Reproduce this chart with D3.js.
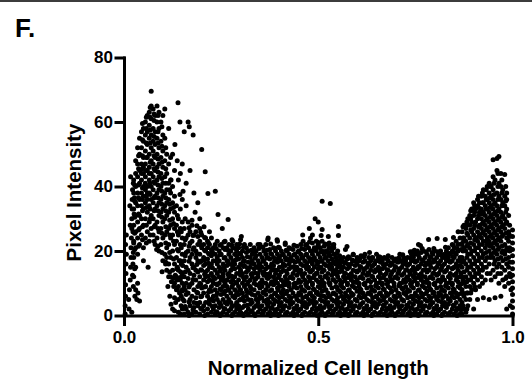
<!DOCTYPE html>
<html>
<head>
<meta charset="utf-8">
<script src="https://cdn.jsdelivr.net/npm/d3@7"></script>
<style>
  body { margin: 0; background: #fff; }
  svg { display: block; }
  text { font-family: "Liberation Sans", Arial, sans-serif; font-weight: bold; fill: #000; }
</style>
</head>
<body>
<svg id="chart" width="532" height="381"></svg>
<script>
// tick values
const xTicks = [0, 0.5, 1];
const yTicks = [0, 20, 40, 60, 80];

// points hugging the left end (x ~ 0)
const leftEdge = [
  [0.003, 0.5], [0.003, 3], [0.004, 6], [0.004, 9.5], [0.005, 13], [0.005, 16], [0.006, 19], [0.004, 22], [0.006, 25],
  [0.012, 5], [0.014, 8], [0.016, 11], [0.017, 15], [0.018, 18], [0.018, 21], [0.019, 24], [0.02, 27], [0.02, 30],
  [0.021, 33], [0.021, 36], [0.022, 39], [0.024, 41], [0.016, 28], [0.015, 34], [0.017, 43],
  [0.024, 9], [0.028, 6], [0.03, 8], [0.033, 5], [0.036, 7], [0.04, 4.5], [0.035, 10],
  [0.022, 12.5], [0.023, 16], [0.024, 19.5], [0.025, 22.5], [0.023, 26], [0.026, 31.5], [0.027, 36.5], [0.013, 2], [0.02, 1]
];

// left peak, one row per x position: [x, y, y, ...]
const leftPeakCols = [
  [0.025, 12, 18, 23, 28, 33, 38, 42],
  [0.03, 15, 21, 26, 31, 35, 40, 44, 48],
  [0.035, 19, 24, 29, 34, 38, 43, 47, 52],
  [0.04, 22, 27, 31, 36, 41, 45, 50, 55],
  [0.045, 25, 30, 34, 38, 42, 44, 47, 52, 57],
  [0.05, 21, 28, 33, 37, 40, 44, 46, 49, 54, 58],
  [0.055, 24, 30, 35, 39, 41, 43, 47, 51, 56, 60],
  [0.06, 26, 32, 36, 38, 40, 45, 49, 53, 57, 62],
  [0.065, 23, 29, 34, 38, 42, 44, 46, 50, 55, 59, 63],
  [0.07, 27, 31, 36, 40, 44, 48, 52, 56, 61, 65, 69.5],
  [0.075, 25, 30, 35, 39, 43, 47, 51, 54, 58, 64],
  [0.08, 22, 28, 33, 37, 41, 45, 49, 53, 57, 62],
  [0.085, 24, 29, 34, 38, 42, 46, 50, 55, 60, 65],
  [0.09, 20, 26, 31, 35, 39, 43, 47, 52, 58, 63],
  [0.095, 22, 27, 32, 36, 40, 44, 49, 54, 60],
  [0.1, 17, 24, 29, 33, 37, 41, 46, 51, 56, 62],
  [0.105, 19, 25, 30, 34, 38, 43, 48, 55, 64],
  [0.11, 14, 21, 26, 31, 35, 39, 44, 50],
  [0.115, 16, 22, 27, 32, 36, 41, 47, 58],
  [0.12, 12, 18, 24, 28, 33, 38, 42, 49],
  [0.125, 14, 20, 25, 30, 35, 40],
  [0.13, 10, 16, 22, 27, 32, 37, 45],
  [0.135, 12, 18, 23, 28, 34],
  [0.14, 9, 14, 20, 25, 30, 42],
  [0.145, 11, 17, 22, 27, 33],
  [0.15, 8, 13, 19, 24, 29, 36]
];

// second pass over the left peak, between the rows above
const leftPeakColsB = [
  [0.0275, 14.5, 20.5, 25.5, 30.5, 35.5, 40.5],
  [0.0375, 21.5, 26.5, 31.5, 36.5, 40.5, 45.5, 49.5],
  [0.0475, 23.5, 27.5, 32.5, 36, 39.5, 45.5, 49.5, 54.5, 59.5],
  [0.0575, 22.5, 28, 33.5, 37, 45, 49, 53.5, 58, 61.5],
  [0.0675, 25, 30, 33, 37.5, 41, 47.5, 53.5, 57.5, 61.5, 64.5],
  [0.0775, 23, 27.5, 32.5, 36.5, 41.5, 45.5, 49.5, 55.5, 60.5, 62.5],
  [0.0875, 21.5, 27, 32.5, 36.5, 40.5, 44.5, 48.5, 53.5, 57, 62],
  [0.0975, 19.5, 25.5, 30.5, 34.5, 38.5, 42.5, 47.5, 52.5, 58.5],
  [0.1075, 16.5, 22.5, 27.5, 32.5, 36.5, 41, 45.5, 52],
  [0.1175, 13.5, 19.5, 25, 29.5, 34.5, 39],
  [0.1275, 11.5, 17.5, 23, 28.5, 33.5],
  [0.1375, 8, 15, 20.5, 26, 31],
  [0.1475, 6, 12, 16, 21, 26]
];

// sparse points between the left peak and the band
const gapPoints = [
  [0.118, 6], [0.125, 2], [0.128, 9], [0.133, 4], [0.137, 11], [0.14, 1], [0.143, 7], [0.147, 3], [0.15, 10],
  [0.152, 5], [0.098, 13.6], [0.113, 9], [0.107, 16], [0.084, 20.5], [0.05, 17], [0.062, 15],
  [0.13, 1.5], [0.13, 5.5], [0.132, 12.5], [0.135, 8], [0.136, 14.5], [0.14, 5], [0.141, 11.5], [0.142, 17],
  [0.145, 0.5], [0.146, 13.5], [0.15, 2], [0.149, 7.5], [0.151, 15.5], [0.121, 3.5], [0.122, 10.5],
  [0.115, 12], [0.11, 18]
];

// scattered points above the band, right of the left peak
const upperTail = [
  [0.125, 50], [0.131, 53], [0.137, 48], [0.139, 66], [0.144, 60], [0.145, 44], [0.15, 47], [0.155, 57],
  [0.165, 60], [0.168, 58.5], [0.178, 56], [0.2, 51.5], [0.17, 45], [0.152, 38.5], [0.16, 41], [0.18, 38],
  [0.183, 32], [0.19, 35], [0.195, 30], [0.175, 29.5], [0.16, 34], [0.209, 44.6], [0.216, 37.8], [0.235, 38.5],
  [0.242, 31.3], [0.268, 29.8], [0.253, 27], [0.206, 27.5], [0.22, 26], [0.278, 23.5], [0.302, 24.5],
  [0.371, 24], [0.394, 23.5], [0.35, 22], [0.415, 22.5], [0.461, 23], [0.121, 42], [0.144, 37.5]
];

// main band along the cell: [x, y, y, ...]
const bandCols = [
  [0.155, 0.5, 4.5, 9, 12, 17, 22, 27],
  [0.16, 2, 6.5, 10, 15, 19.5, 24],
  [0.165, 1, 7, 11.5, 14, 20, 25, 29],
  [0.17, 3, 5, 9.5, 13, 18, 22.5, 26],
  [0.175, 0.5, 6, 10, 16, 19, 23, 28],
  [0.18, 2.5, 4, 8, 12.5, 15, 21, 25],
  [0.185, 1, 5.5, 11, 14, 18, 20, 26],
  [0.19, 3, 7, 9, 13.5, 17, 22, 24.5],
  [0.195, 0.5, 4, 10, 12, 16.5, 19, 23, 27],
  [0.2, 2, 6, 8.5, 14, 17, 21, 25],
  [0.205, 1.5, 3, 7, 11, 15.5, 18, 22],
  [0.21, 4, 9, 12, 13.5, 16, 20, 24],
  [0.215, 0.5, 2, 6, 10.5, 14, 17.5, 21, 23],
  [0.22, 3.5, 5, 8, 11, 15, 19, 22],
  [0.225, 1, 7.5, 9, 13, 16, 18.5, 20.5, 24],
  [0.23, 2, 4.5, 6, 10, 12, 17, 21],
  [0.235, 0.5, 3, 8, 11.5, 14, 19, 22],
  [0.24, 1, 5, 7, 9.5, 13, 16, 18, 23],
  [0.245, 2.5, 4, 10, 12, 15, 17, 20],
  [0.25, 0.5, 3, 6.5, 8, 11, 14.5, 19, 22],
  [0.255, 1, 5, 9, 12, 13, 16, 21],
  [0.26, 2, 4, 7.5, 10, 14, 18, 20.5, 23],
  [0.265, 0.5, 3.5, 6, 9, 11, 15.5, 17, 21],
  [0.27, 1.5, 5, 8, 12, 13, 16, 19, 22],
  [0.275, 2, 4, 7, 10.5, 14, 18, 20],
  [0.28, 0.5, 3, 6, 9.5, 11, 15, 17, 21, 23],
  [0.285, 1, 5.5, 8, 12, 14.5, 16, 19],
  [0.29, 2, 4, 7, 10, 13, 18.5, 20, 22],
  [0.295, 0.5, 3, 6.5, 9, 11, 15, 17.5, 21],
  [0.3, 1, 5, 8, 12.5, 14, 16, 19, 23.5],
  [0.305, 0.5, 2.5, 7, 10, 13, 18, 20],
  [0.31, 3, 4.5, 9, 11, 15.5, 17, 22],
  [0.315, 1, 6, 8, 12, 13.5, 19.5, 21],
  [0.32, 0.5, 2, 5, 10.5, 14, 16.5, 20],
  [0.325, 3.5, 7, 9, 11, 15, 18, 22],
  [0.33, 1.5, 4, 6.5, 12, 13, 17, 19],
  [0.335, 0.5, 2.5, 8, 10, 14.5, 16, 21],
  [0.34, 3, 5, 9.5, 11.5, 15, 18.5, 20],
  [0.345, 1, 4, 7, 12, 13, 17, 22],
  [0.35, 2, 6, 8.5, 10, 14, 16, 19, 21.5],
  [0.355, 0.5, 3, 5.5, 9, 11, 15, 18],
  [0.36, 1.5, 4.5, 7, 12.5, 13.5, 17, 20],
  [0.365, 2, 6.5, 8, 10, 14.5, 16, 19, 22],
  [0.37, 0.5, 3, 5, 9, 11.5, 15, 18, 23.5],
  [0.375, 1, 4, 7.5, 12, 13, 17.5, 20.5],
  [0.38, 2.5, 6, 8, 10.5, 14, 16, 19],
  [0.385, 0.5, 3.5, 5, 9.5, 12, 15.5, 18, 21],
  [0.39, 1, 4.5, 7, 11, 13, 17, 20],
  [0.395, 2, 6, 8.5, 10, 14, 16.5, 19, 23],
  [0.4, 0.5, 3, 5.5, 9, 12.5, 15, 18, 21],
  [0.405, 1.5, 4, 7, 11, 13.5, 17, 20],
  [0.41, 2, 6.5, 8, 10.5, 14, 16, 19],
  [0.415, 0.5, 3, 5, 9.5, 12, 15.5, 18, 22],
  [0.42, 1, 4.5, 7.5, 11, 13, 17.5, 20],
  [0.425, 2.5, 6, 9, 10, 14.5, 16, 19, 21],
  [0.43, 0.5, 3.5, 5.5, 8, 12, 15, 18],
  [0.435, 1, 4, 7, 11.5, 13, 17, 20.5],
  [0.44, 2, 6, 9.5, 10, 14, 16.5, 19],
  [0.445, 0.5, 3, 5, 8.5, 12.5, 15, 18, 21.5],
  [0.45, 1.5, 4.5, 7, 11, 13.5, 17, 20],
  [0.455, 2, 6.5, 9, 10.5, 14, 16, 19, 22],
  [0.46, 0.5, 3, 5.5, 8, 12, 15.5, 18, 25],
  [0.465, 1, 4, 7.5, 11, 13, 17, 20.5],
  [0.47, 2.5, 6, 9, 10, 14.5, 16, 19, 22],
  [0.475, 0.5, 3.5, 5, 8.5, 12, 15, 18, 21],
  [0.48, 1, 4.5, 7, 11.5, 13.5, 17.5, 20, 24],
  [0.485, 2, 6, 9.5, 10, 14, 16, 19, 22.5],
  [0.49, 0.5, 3, 5.5, 8, 12.5, 15, 18, 21],
  [0.495, 1.5, 4, 7, 11, 13, 17, 20, 23],
  [0.5, 2, 6.5, 9, 10.5, 14.5, 16.5, 19, 22],
  [0.505, 0.5, 3, 5, 8.5, 12, 15, 18, 21],
  [0.51, 1, 4.5, 7.5, 11, 13.5, 17, 20, 23],
  [0.515, 2.5, 6, 9, 10, 14, 16, 19, 21.5],
  [0.52, 0.5, 3.5, 5.5, 8, 12, 15.5, 18, 20],
  [0.525, 1, 4, 7, 11.5, 13, 17, 19.5, 22],
  [0.53, 2, 6, 9.5, 10, 14.5, 16, 18.5, 21],
  [0.535, 0.5, 3, 5, 8.5, 12.5, 15, 17.5, 20],
  [0.54, 1.5, 4.5, 7, 11, 13, 16.5, 19, 22],
  [0.545, 2, 6.5, 9, 10.5, 14, 16, 18],
  [0.55, 0.5, 3, 5.5, 8, 12, 15, 17, 20],
  [0.555, 1, 4, 7.5, 11, 13.5, 16, 18.5],
  [0.56, 2.5, 6, 9, 10, 14, 17],
  [0.565, 0.5, 3.5, 5, 8.5, 12, 15, 18],
  [0.57, 1, 4.5, 7, 11.5, 13, 16.5],
  [0.575, 2, 6, 9.5, 10, 14.5, 17.5],
  [0.58, 0.5, 3, 5.5, 8, 12.5, 15, 18],
  [0.585, 1.5, 4, 7, 11, 13, 16],
  [0.59, 2, 6.5, 9, 10.5, 14, 17, 19],
  [0.595, 0.5, 3, 5, 8.5, 12, 15.5],
  [0.6, 1, 4.5, 7.5, 11, 13.5, 16, 18],
  [0.605, 2.5, 6, 9, 10, 14, 17],
  [0.61, 0.5, 3.5, 5.5, 8, 12, 15, 18.5],
  [0.615, 1, 4, 7, 11.5, 13, 16.5],
  [0.62, 2, 6, 9.5, 10, 14.5, 17, 19],
  [0.625, 0.5, 3, 5, 8.5, 12.5, 15],
  [0.63, 1.5, 4.5, 7, 11, 13, 16, 18],
  [0.635, 2, 6.5, 9, 10.5, 14, 17],
  [0.64, 0.5, 3, 5.5, 8, 12, 15.5, 18],
  [0.645, 1, 4, 7.5, 11, 13.5, 16],
  [0.65, 2.5, 6, 9, 10, 14, 17, 19],
  [0.655, 0.5, 3.5, 5, 8.5, 12, 15],
  [0.66, 1, 4.5, 7, 11.5, 13, 16.5, 18],
  [0.665, 2, 6, 9.5, 10, 14.5, 17],
  [0.67, 0.5, 3, 5.5, 8, 12.5, 15, 18],
  [0.675, 1.5, 4, 7, 11, 13, 16],
  [0.68, 2, 6.5, 9, 10.5, 14, 17, 18.5],
  [0.685, 0.5, 3, 5, 8.5, 12, 15.5],
  [0.69, 1, 4.5, 7.5, 11, 13.5, 16, 18],
  [0.695, 2.5, 6, 9, 10, 14, 17],
  [0.7, 0.5, 3.5, 5.5, 8, 12, 15, 17.5],
  [0.705, 1, 4, 7, 11.5, 13, 16.5],
  [0.71, 2, 6, 9.5, 10, 14.5, 17, 19],
  [0.715, 0.5, 3, 5, 8.5, 12.5, 15],
  [0.72, 1.5, 4.5, 7, 11, 13, 16, 18],
  [0.725, 2, 6.5, 9, 10.5, 14, 17],
  [0.73, 0.5, 3, 5.5, 8, 12, 15.5, 18],
  [0.735, 1, 4, 7.5, 11, 13.5, 16],
  [0.74, 2.5, 6, 9, 10, 14, 17, 19],
  [0.745, 0.5, 3.5, 5, 8.5, 12, 15, 18],
  [0.75, 1, 4.5, 7, 11.5, 13, 16.5, 19],
  [0.755, 2, 6, 9.5, 10, 14.5, 17, 20],
  [0.76, 0.5, 3, 5.5, 8, 12.5, 15, 18],
  [0.765, 1.5, 4, 7, 11, 13, 16, 19.5],
  [0.77, 2, 6.5, 9, 10.5, 14, 17, 20],
  [0.775, 0.5, 3, 5, 8.5, 12, 15.5, 18],
  [0.78, 1, 4.5, 7.5, 11, 13.5, 16, 19],
  [0.785, 2.5, 6, 9, 10, 14, 17, 20.5],
  [0.79, 0.5, 3.5, 5.5, 8, 12, 15, 18],
  [0.795, 1, 4, 7, 11.5, 13, 16.5, 19],
  [0.8, 2, 6, 9.5, 10, 14.5, 17, 20],
  [0.805, 0.5, 3, 5, 8.5, 12.5, 15, 18],
  [0.81, 1.5, 4.5, 7, 11, 13, 16, 19],
  [0.815, 2, 6.5, 9, 10.5, 14, 17, 20],
  [0.82, 0.5, 3, 5.5, 8, 12, 15.5, 18],
  [0.825, 1, 4, 7.5, 11, 13.5, 16, 19],
  [0.83, 2.5, 6, 9, 10, 14, 17, 20],
  [0.835, 0.5, 3.5, 5, 8.5, 12, 15, 18, 21],
  [0.84, 1, 4.5, 7, 11.5, 13, 16.5, 19],
  [0.845, 2, 6, 9.5, 10, 14.5, 17, 20, 22],
  [0.85, 0.5, 3, 5.5, 8, 12.5, 15, 18, 21],
  [0.855, 1.5, 4, 7, 11, 13, 16, 19, 23],
  [0.86, 2, 6.5, 9, 10.5, 14, 17, 20, 22],
  [0.865, 0.5, 3, 5, 8.5, 12, 15.5, 18, 24]
];

// second pass over the band, between the rows above
const bandColsB = [
  [0.1575, 2.8, 7.8, 13.5, 18.5, 23.5, 30],
  [0.1675, 0, 4.2, 8.8, 16.8, 21.5, 27.2],
  [0.1775, 1.8, 11.2, 14.8, 20.5, 24.8],
  [0.1875, 3.8, 7.2, 15.8, 19.2, 27.8],
  [0.1975, 2.2, 5.8, 9.8, 14.2, 21.8, 25.8],
  [0.2075, 0, 8.8, 12.8, 17.2, 20.2, 24.2],
  [0.2175, 4.2, 7.2, 12.2, 16.2, 19.2, 22.5],
  [0.2275, 2.8, 5.2, 10.8, 14.8, 19.8],
  [0.2375, 1.2, 6.2, 9.8, 16.8, 20.8],
  [0.2475, 0, 3.8, 8.2, 13.8, 18.8, 21.8],
  [0.2575, 2.2, 6.8, 10.8, 15.2, 17.8, 22.8],
  [0.2675, 4.2, 7.8, 12.8, 16.8, 20.2],
  [0.2775, 0, 2.8, 8.8, 12.2, 15.8, 21.8],
  [0.2875, 3.2, 6.2, 10.2, 17.2, 20.8],
  [0.2975, 1.8, 4.8, 7.8, 13.2, 19.2, 22.2],
  [0.3075, 0, 5.8, 11.8, 15.2, 16.8, 21.2],
  [0.3175, 3.2, 7.2, 9.8, 14.8, 18.2],
  [0.3275, 1.2, 4.8, 8.2, 12.8, 16.2, 20.2],
  [0.3375, 0, 6.2, 11.2, 13.2, 17.8, 19.8],
  [0.3475, 2.8, 5.2, 9.2, 14.8, 15.8, 20.8],
  [0.3575, 0.8, 7.2, 10.2, 13.2, 16.8, 21.2],
  [0.3675, 3.8, 4.8, 11.8, 12.8, 17.8, 20.2],
  [0.3775, 0, 2.2, 5.8, 9.8, 15.2, 19.2, 22.2],
  [0.3875, 1.8, 6.8, 10.8, 14.2, 16.8, 20.8],
  [0.3975, 0, 4.2, 7.8, 11.8, 17.8, 21.2],
  [0.4075, 2.8, 5.8, 9.2, 15.2, 18.8],
  [0.4175, 0.8, 6.8, 10.8, 13.8, 17.2, 20.2],
  [0.4275, 3.8, 4.8, 11.8, 16.8, 20.8],
  [0.4375, 0, 2.2, 8.8, 9.8, 15.2, 18.8, 21.8],
  [0.4475, 1.8, 6.2, 10.2, 14.2, 16.8, 19.8],
  [0.4575, 0, 4.2, 7.8, 12.8, 17.8, 20.8],
  [0.4675, 2.8, 5.8, 9.8, 15.2, 18.8, 21.8],
  [0.4775, 0.8, 6.8, 10.8, 13.8, 16.8, 22.8],
  [0.4875, 3.8, 4.8, 8.2, 11.8, 17.2, 20.2],
  [0.4975, 0, 2.2, 7.2, 13.2, 15.8, 21.2],
  [0.5075, 1.8, 6.2, 9.8, 14.8, 16.8, 19.8, 24.8],
  [0.5175, 0, 4.2, 7.8, 12.2, 17.8, 22.2],
  [0.5275, 2.8, 5.8, 10.2, 15.2, 18.8, 20.8],
  [0.5375, 0.8, 6.8, 11.2, 13.8, 16.2, 21.8],
  [0.5475, 3.8, 4.8, 8.8, 12.8, 17.2, 19.2],
  [0.5575, 0, 2.2, 7.2, 9.8, 15.2, 17.8],
  [0.5675, 1.8, 5.8, 10.8, 13.2, 16.2],
  [0.5775, 0, 4.2, 7.8, 11.8, 15.8, 18.2],
  [0.5875, 2.8, 6.2, 9.2, 12.2, 17.2],
  [0.5975, 0.8, 4.8, 10.2, 13.8, 16.8],
  [0.6075, 3.2, 7.2, 8.2, 11.8, 15.2, 17.8],
  [0.6175, 0, 2.2, 5.8, 9.8, 14.2, 18.2],
  [0.6275, 1.8, 6.8, 10.8, 13.2, 16.2],
  [0.6375, 0, 4.2, 7.8, 12.2, 15.2, 17.8],
  [0.6475, 2.8, 5.8, 9.2, 14.2, 16.8],
  [0.6575, 0.8, 6.8, 10.2, 13.8, 17.2, 18.2],
  [0.6675, 3.2, 4.8, 8.2, 11.8, 15.8],
  [0.6775, 0, 2.2, 6.2, 9.8, 14.2, 17.8],
  [0.6875, 1.8, 7.2, 10.8, 12.8, 16.2],
  [0.6975, 0, 4.2, 5.8, 11.8, 15.2, 17.2],
  [0.7075, 2.8, 6.8, 9.2, 13.8, 17.8],
  [0.7175, 0.8, 4.8, 8.2, 10.2, 16.2, 18.8],
  [0.7275, 3.2, 7.2, 11.8, 14.2, 15.8],
  [0.7375, 0, 2.2, 5.8, 9.8, 12.8, 17.8],
  [0.7475, 1.8, 6.2, 10.8, 13.8, 16.8, 20.2],
  [0.7575, 0, 4.2, 7.8, 11.8, 15.2, 18.8],
  [0.7675, 2.8, 5.8, 9.2, 12.2, 17.2, 20.8],
  [0.7775, 0.8, 6.8, 10.2, 14.2, 16.2, 19.8],
  [0.7875, 3.2, 4.8, 8.2, 11.8, 15.8, 18.2],
  [0.7975, 0, 2.2, 7.2, 9.8, 13.2, 17.2, 20.8],
  [0.8075, 1.8, 5.8, 10.8, 12.8, 16.2, 19.8],
  [0.8175, 0, 4.2, 7.8, 11.2, 14.8, 18.8],
  [0.8275, 2.8, 6.2, 9.2, 13.8, 17.8, 21.2],
  [0.8375, 0.8, 5.2, 10.2, 12.2, 16.8, 19.2],
  [0.8475, 3.2, 7.2, 8.2, 14.8, 18.2, 21.8],
  [0.8575, 0, 2.2, 5.8, 11.8, 15.2, 20.8],
  [0.8675, 1.8, 6.8, 9.8, 13.2, 16.8, 22.2]
];

// bump near the middle of the cell
const midBump = [
  [0.51, 35.4], [0.531, 34.7], [0.492, 30], [0.477, 27], [0.51, 26.7], [0.552, 27.6], [0.552, 24.8],
  [0.526, 24.5], [0.5, 22.6], [0.528, 22.5], [0.574, 21.4], [0.57, 20.5], [0.59, 18.8], [0.632, 19.5],
  [0.655, 18], [0.675, 17.7], [0.7, 16.8], [0.72, 17.4], [0.742, 19.8], [0.758, 22], [0.5, 29],
  [0.485, 25], [0.54, 21]
];

// dotted profiles on the right
const rightArcs = [
  [0.737, 19.8], [0.763, 21.7], [0.784, 23.6], [0.806, 23.9], [0.827, 23.6], [0.848, 24.2], [0.874, 23],
  [0.793, 19.5], [0.81, 18.8], [0.83, 19], [0.85, 19.5], [0.868, 20.5], [0.86, 26], [0.88, 28]
];

// right peak: [x, y, y, ...]
const rightPeakCols = [
  [0.87, 0.5, 4, 8, 12, 15, 18, 22, 26],
  [0.875, 2, 6, 10, 13.5, 17, 21, 24, 28],
  [0.88, 1, 5, 9, 12, 16, 20, 23, 27],
  [0.885, 3, 7, 11, 15, 19, 22, 25, 30],
  [0.89, 5, 9, 13, 17, 21, 24, 28, 31],
  [0.895, 8, 12, 16, 20, 26, 29, 33],
  [0.9, 2, 10, 14, 18, 22, 25, 27, 31, 35],
  [0.905, 8, 13, 17, 21, 24, 29, 33],
  [0.91, 5, 11, 15, 19, 23, 26, 30, 34, 36],
  [0.915, 9, 14, 18, 22, 25, 28, 32, 35],
  [0.92, 12, 16, 20, 24, 27, 30, 33, 37],
  [0.925, 5.5, 15, 19, 23, 26, 29, 32, 35, 39],
  [0.93, 11, 17, 21, 25, 28, 31, 34, 37],
  [0.935, 13, 18, 22, 24, 27, 30, 33, 36, 40],
  [0.94, 5, 16, 20, 23, 26, 29, 32, 35, 38, 41],
  [0.945, 11, 19, 22, 25, 28, 31, 34, 37, 40],
  [0.95, 14, 18, 21, 24, 27, 30, 33, 36, 39, 43, 48.3],
  [0.955, 5.5, 12, 17, 20, 23, 26, 29, 32, 35, 42],
  [0.96, 15, 19, 22, 25, 28, 31, 34, 38, 45, 48.7],
  [0.965, 10, 16, 21, 24, 27, 30, 33, 37, 41, 49.3],
  [0.97, 6, 13, 18, 23, 26, 29, 32, 36, 40, 44],
  [0.975, 11, 17, 20, 25, 28, 31, 35, 39],
  [0.98, 9, 14, 19, 22, 27, 30, 34, 37, 43.7],
  [0.985, 2, 12, 16, 21, 24, 29, 33, 36, 38],
  [0.99, 10, 15, 18, 23, 26, 31]
];

// second pass over the right peak
const rightPeakColsB = [
  [0.8725, 3, 7, 11, 16.5, 20, 24, 27.5],
  [0.8825, 2, 7, 10.5, 14, 18, 21.5, 25.5, 29],
  [0.8925, 7, 11, 15, 19, 22.5, 26.5, 30, 32.5],
  [0.9025, 9, 12, 16, 20, 23.5, 28, 32, 34],
  [0.9125, 13, 17, 21, 24.5, 27.5, 31, 33.5, 37],
  [0.9225, 10, 14, 18, 22, 25.5, 28.5, 31.5, 35, 38],
  [0.9325, 15, 19.5, 23, 26.5, 29.5, 33, 36, 39],
  [0.9425, 13, 18, 21.5, 24.5, 27.5, 30.5, 33.5, 36.5, 40],
  [0.9525, 16, 19.5, 22.5, 25.5, 28.5, 31.5, 34.5, 37.5, 41],
  [0.9625, 13, 17.5, 20.5, 23.5, 26.5, 29.5, 32.5, 36, 40, 44],
  [0.9725, 15, 19.5, 21.5, 24.5, 27.5, 30.5, 34, 38, 42],
  [0.9825, 11.5, 17.5, 20, 25.5, 28.5, 32, 35.5, 40],
  [0.9925, 13, 16.5, 21, 24.5, 28]
];

// column at the right end (x ~ 1)
const rightEdge = [
  [1, 0.5], [1, 2.5], [1, 4.5], [1, 6.5], [1, 8.5], [1, 10.5], [1, 12.5], [1, 14.5], [1, 16.5], [1, 18.5],
  [1, 20.5], [1, 22.5], [1, 24.5], [1, 26.5], [0.994, 3], [0.995, 12], [0.993, 20], [0.996, 8], [0.992, 25]
];

const svg = d3.select('#chart');

// thin border remnant at the top of the figure
svg.append('rect')
  .attr('x', 0).attr('y', 0)
  .attr('width', 532).attr('height', 2)
  .attr('fill', '#3c3c3c');

const x = d3.scaleLinear().domain([0, 1]).range([124, 512.5]);
const y = d3.scaleLinear().domain([0, 80]).range([315.5, 57.5]);

const fromCols = (cols) => cols.flatMap(([cx, ...ys]) => ys.map((v) => [cx, v]));

const points = [
  ...leftEdge,
  ...fromCols(leftPeakCols),
  ...fromCols(leftPeakColsB),
  ...gapPoints,
  ...upperTail,
  ...fromCols(bandCols),
  ...fromCols(bandColsB),
  ...midBump,
  ...rightArcs,
  ...fromCols(rightPeakCols),
  ...fromCols(rightPeakColsB),
  ...rightEdge
];

//
// Points
//

svg.append('g')
  .selectAll('circle')
  .data(points)
  .join('circle')
  .attr('cx', (d) => x(d[0]))
  .attr('cy', (d) => y(d[1]))
  .attr('r', 2.5)
  .attr('fill', '#000');

//
// Axes
//

const styleAxis = (g) => {
  g.selectAll('path, line')
    .attr('stroke', '#000')
    .attr('stroke-width', 3)
    .attr('stroke-linecap', 'square');
  g.selectAll('text')
    .attr('font-size', 17)
    .attr('font-weight', 'bold')
    .attr('fill', '#000');
};

svg.append('g')
  .attr('transform', `translate(0, ${y(0)})`)
  .call(
    d3.axisBottom(x)
      .tickValues(xTicks)
      .tickFormat(d3.format('.1f'))
      .tickSize(9)
      .tickSizeOuter(0)
      .tickPadding(6)
  )
  .call(styleAxis);

svg.append('g')
  .attr('transform', `translate(${x(0)}, 0)`)
  .call(
    d3.axisLeft(y)
      .tickValues(yTicks)
      .tickSize(8)
      .tickSizeOuter(0)
      .tickPadding(3)
  )
  .call(styleAxis);

//
// Titles
//

svg.append('text')
  .attr('x', (x(0) + x(1)) / 2)
  .attr('y', 375)
  .attr('text-anchor', 'middle')
  .attr('font-size', 20.5)
  .text('Normalized Cell length');

svg.append('text')
  .attr('transform', `translate(81, ${(y(0) + y(80)) / 2 + 6}) rotate(-90)`)
  .attr('text-anchor', 'middle')
  .attr('font-size', 20.5)
  .text('Pixel Intensity');

svg.append('text')
  .attr('x', 15)
  .attr('y', 37)
  .attr('font-size', 26)
  .text('F.');
</script>
</body>
</html>
